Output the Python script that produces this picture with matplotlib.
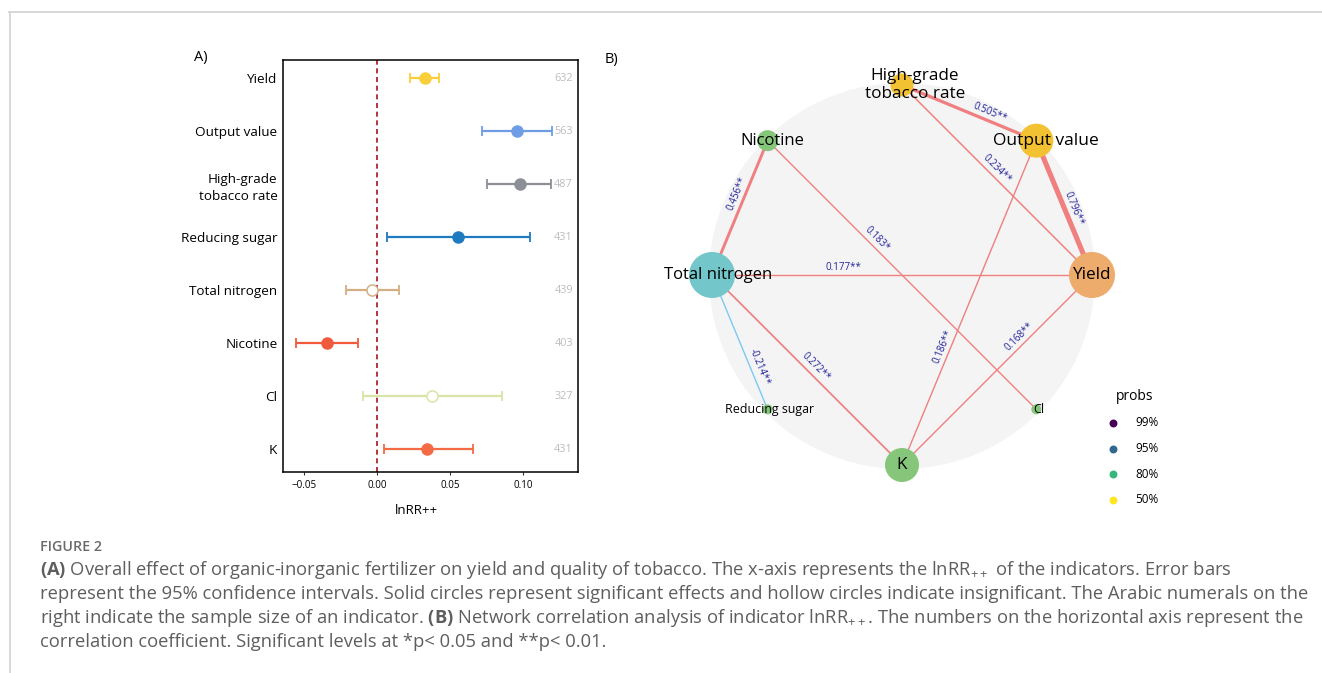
import numpy as np
import matplotlib
matplotlib.use("Agg")
from matplotlib import pyplot as plt
from matplotlib.patches import Circle

plt.rcParams['font.family'] = ['Open Sans', 'DejaVu Sans']
plt.rcParams['mathtext.fontset'] = 'custom'
plt.rcParams['mathtext.rm'] = 'Open Sans'
plt.rcParams['mathtext.bf'] = 'Open Sans:bold'
plt.rcParams['axes.unicode_minus'] = True

W, H = 1322, 673

# ---- panel A data (top to bottom)
indicators = ["Yield", "Output value", "High-grade\ntobacco rate", "Reducing sugar",
              "Total nitrogen", "Nicotine", "Cl", "K"]
lnrr = [0.0329, 0.0959, 0.0980, 0.0557, -0.0037, -0.0342, 0.0379, 0.0345]
ci_low = [0.0226, 0.0717, 0.0756, 0.0066, -0.0215, -0.0555, -0.0094, 0.0048]
ci_high = [0.0425, 0.1199, 0.1190, 0.1048, 0.0148, -0.0132, 0.0858, 0.0660]
significant = [True, True, True, True, False, True, False, True]
sample_size = [632, 563, 487, 431, 439, 403, 327, 431]
colors_a = ["#F8CF3A", "#6E9DE6", "#8C9096", "#1F7BC0", "#D6AE84", "#F15B3B", "#D9E5A6", "#F36B45"]

# ---- panel B data
nodes = ["High-grade\ntobacco rate", "Output value", "Yield", "Cl", "K",
         "Reducing sugar", "Total nitrogen", "Nicotine"]
node_size = [11.5, 17, 23, 5, 17, 5, 23, 10.5]
node_color = ["#F3C232", "#F3C232", "#EDAB6C", "#86C67B", "#86C67B", "#86C67B", "#73C6C9", "#86C67B"]
label_size = [12.3, 12.5, 12.3, 9, 12.3, 8.9, 12, 12]
label_dx = [13, 10, 0, 2, 0, 2, 6, 5]

edge_from = ["High-grade\ntobacco rate", "Output value", "High-grade\ntobacco rate", "Total nitrogen",
             "Nicotine", "Total nitrogen", "Total nitrogen", "Total nitrogen", "K", "K"]
edge_to = ["Output value", "Yield", "Yield", "Nicotine", "Cl", "Yield",
           "Reducing sugar", "K", "Output value", "Yield"]
edge_r = [0.505, 0.796, 0.234, 0.456, 0.183, 0.177, -0.214, 0.272, 0.186, 0.168]
edge_sig = ["**", "**", "**", "**", "*", "**", "**", "**", "**", "**"]
edge_t = [0.63, 0.53, 0.47, 0.58, 0.386, 0.346, 0.71, 0.515, 0.357, 0.646]

probs = ["99%", "95%", "80%", "50%"]
probs_color = ["#440154", "#31688E", "#35B779", "#FDE725"]

fig = plt.figure(figsize=(W / 100, H / 100), dpi=100)

# overlay in pixel coords: frame, caption, legend
ov = fig.add_axes([0, 0, 1, 1])
ov.set_xlim(0, W)
ov.set_ylim(H, 0)
ov.axis('off')
ov.plot([9, W], [12, 12], color="#D4D4D4", lw=1.3)
ov.plot([10, 10], [12, H], color="#D4D4D4", lw=1.3)

cap_col = "#5E5E5E"
ov.text(40, 547, "FIGURE 2", fontsize=10.3, color="#6A6A6A", fontweight='semibold', va='center')
caption = [
    r"$\mathbf{(A)}$ Overall effect of organic-inorganic fertilizer on yield and quality of tobacco. The x-axis represents the lnRR$_{++}$ of the indicators. Error bars",
    "represent the 95% confidence intervals. Solid circles represent significant effects and hollow circles indicate insignificant. The Arabic numerals on the",
    r"right indicate the sample size of an indicator. $\mathbf{(B)}$ Network correlation analysis of indicator lnRR$_{++}$. The numbers on the horizontal axis represent the",
    "correlation coefficient. Significant levels at *p< 0.05 and **p< 0.01.",
]
for i, line in enumerate(caption):
    ov.text(40, 570 + 24 * i, line, fontsize=13.2, color=cap_col, va='center')

ov.text(194, 57, "A)", fontsize=10.5, va='center')
ov.text(605, 60, "B)", fontsize=10.5, va='center')

ov.text(1135, 397, "probs", fontsize=10, ha='center', va='center')
for i in range(len(probs)):
    y = 423 + 25.5 * i
    ov.scatter([1113], [y], s=22, color=probs_color[i], zorder=3)
    ov.text(1135, y, probs[i], fontsize=8.5, va='center')

# ---- panel A
axA = fig.add_axes([283 / W, 1 - 472 / H, 295 / W, 412 / H])
ypos = np.arange(len(indicators))[::-1] + 1
for i in range(len(indicators)):
    c = colors_a[i]
    axA.errorbar(lnrr[i], ypos[i], xerr=[[lnrr[i] - ci_low[i]], [ci_high[i] - lnrr[i]]],
                 fmt='none', ecolor=c, elinewidth=1.6, capsize=3.5, capthick=1.3, zorder=2)
    if significant[i]:
        axA.plot(lnrr[i], ypos[i], 'o', ms=8, color=c, zorder=3)
    else:
        axA.plot(lnrr[i], ypos[i], 'o', ms=8, mfc='white', mec=c, mew=1.1, zorder=3)
    axA.text(0.983, ypos[i], str(sample_size[i]), transform=axA.get_yaxis_transform(),
             ha='right', va='center', fontsize=7.8, color="#BDBDBD")
axA.axvline(0, color="#A8141B", lw=1.2, ls=(0, (3, 2.2)), zorder=1)
axA.set_xlim(-0.0644, 0.1377)
axA.set_ylim(0.57, 8.34)
axA.set_yticks(ypos)
axA.set_yticklabels(indicators, fontsize=9.7)
for lbl in axA.get_yticklabels():
    lbl.set_linespacing(1.45)
axA.set_xticks([-0.05, 0, 0.05, 0.10])
axA.set_xticklabels(["\u22120.05", "0.00", "0.05", "0.10"], fontsize=7)
axA.tick_params(axis='y', length=0, pad=4)
axA.tick_params(axis='x', length=2, pad=4, color="#333333")
for s in axA.spines.values():
    s.set_linewidth(1.1)
ov.text(416, 510, "lnRR++", fontsize=9.5, ha='center', va='center')

# ---- panel B
scale = 190.0
axB = fig.add_axes([(902 - 1.55 * scale) / W, 1 - (275 + 1.2 * scale) / H, 3.1 * scale / W, 2.4 * scale / H])
axB.set_xlim(-1.55, 1.55)
axB.set_ylim(-1.2, 1.2)
axB.axis('off')
axB.add_patch(Circle((0, -0.005), 193 / scale, color="#F4F4F4", zorder=0, lw=0))

ang = np.deg2rad(90 - 45 * np.arange(len(nodes)))
pos = {n: (np.cos(a), np.sin(a)) for n, a in zip(nodes, ang)}

for a, b, r, sig, t in zip(edge_from, edge_to, edge_r, edge_sig, edge_t):
    (x1, y1), (x2, y2) = pos[a], pos[b]
    col = "#F07F7F" if r > 0 else "#7CC9F2"
    axB.plot([x1, x2], [y1, y2], color=col, lw=max(4.6 * abs(r), 1.0), zorder=1, solid_capstyle='butt')
    deg = np.degrees(np.arctan2(y2 - y1, x2 - x1))
    if deg > 90:
        deg -= 180
    elif deg < -90:
        deg += 180
    th = np.deg2rad(deg)
    off = 8 / scale
    lx = x1 + t * (x2 - x1) - np.sin(th) * off
    ly = y1 + t * (y2 - y1) + np.cos(th) * off
    axB.text(lx, ly, "%.3f%s" % (r, sig), rotation=deg, rotation_mode='anchor',
             ha='center', va='center', fontsize=7, color="#22229A", zorder=4)

for n, sz, c, fs, dx in zip(nodes, node_size, node_color, label_size, label_dx):
    x, y = pos[n]
    axB.add_patch(Circle((x, y), sz / scale, color=c, zorder=2, lw=0))
    axB.text(x + dx / scale, y, n, fontsize=fs, ha='center', va='center',
             multialignment='center', zorder=5, linespacing=1.25)

fig.savefig("out.png", dpi=100)
